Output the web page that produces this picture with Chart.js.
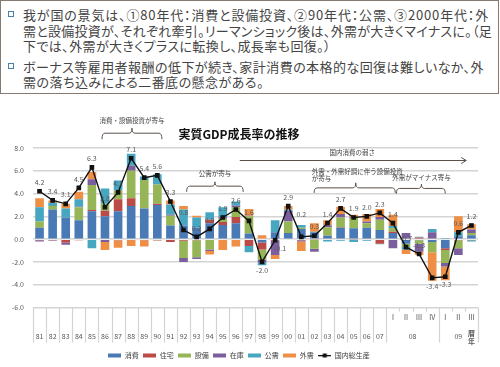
<!DOCTYPE html>
<html>
<head>
<meta charset="utf-8">
<script src="https://cdn.jsdelivr.net/npm/chart.js@4.4.1/dist/chart.umd.min.js"></script>
<style>
html, body { margin: 0; padding: 0; background: #fff; overflow: hidden; }
#wrap { position: relative; width: 500px; height: 367px; overflow: hidden; }
canvas { position: absolute; left: 0; top: 0; }
#box { position: absolute; left: 0; top: 0; width: 497px; height: 92px; border: 1.5px solid #86796f; background: #fff;
  font-family: "Noto Sans CJK JP"; font-size: 13px; color: #444; font-feature-settings: "palt"; }
.ln { position: absolute; left: 22px; height: 15px; line-height: 15px; white-space: nowrap; }
.sq { position: absolute; left: 7px; width: 4px; height: 4px; border: 1.5px solid #4d7ea8; }
#title { position: absolute; left: 0; top: 125px; width: 478px; text-align: center; font: bold 12px "Noto Sans CJK JP"; color: #111; }
</style>
</head>
<body>
<div id="wrap">
  <canvas id="grafico" width="500" height="370"></canvas>
  <div id="box">
    <div class="sq" style="top:10px"></div>
    <div class="ln" style="top:6px" data-w="466">我が国の景気は、①80年代：消費と設備投資、②90年代：公需、③2000年代：外</div>
    <div class="ln" style="top:22px" data-w="469">需と設備投資が、それぞれ牽引。リーマンショック後は、外需が大きくマイナスに。（足</div>
    <div class="ln" style="top:37px" data-w="308">下では、外需が大きくプラスに転換し、成長率も回復。）</div>
    <div class="sq" style="top:62px"></div>
    <div class="ln" style="top:58px" data-w="461">ボーナス等雇用者報酬の低下が続き、家計消費の本格的な回復は難しいなか、外</div>
    <div class="ln" style="top:73px" data-w="241">需の落ち込みによる二番底の懸念がある。</div>
  </div>
  <div id="title">実質GDP成長率の推移</div>
</div>
<script>
// カテゴリ（暦年 81〜07、08・09 は四半期）
const categories = ['81','82','83','84','85','86','87','88','89','90','91','92','93','94','95','96','97','98','99','00','01','02','03','04','05','06','07',
  '08Ⅰ','08Ⅱ','08Ⅲ','08Ⅳ','09Ⅰ','09Ⅱ','09Ⅲ'];
const yearLabels = ['81','82','83','84','85','86','87','88','89','90','91','92','93','94','95','96','97','98','99','00','01','02','03','04','05','06','07',
  '','','','','','',''];
const quarterLabels = ['','','','','','','','','','','','','','','','','','','','','','','','','','','',
  'Ⅰ','Ⅱ','Ⅲ','Ⅳ','Ⅰ','Ⅱ','Ⅲ'];
const groupLabels = ['08', '09'];
const groupRanges = [[27, 30], [31, 33]];
const calendarNote = '暦年';
const yTicks = [-6, -4, -2, 0, 2, 4, 6, 8];

// 寄与度（%ポイント）
const shohi =   [1.0, 2.6, 1.9, 1.65, 2.45, 2.0, 2.45, 2.9, 2.7, 3.0, 1.2, 1.2, 1.0, 1.4, 1.25, 1.4, 0.5, -0.3, 0.6, 0.55, 0.9, 0.6, 0.3, 1.0, 0.95, 1.0, 0.8, 0.55, -0.4, -0.1, -0.25, -0.8, 0.25, 0.35];
const jutaku =  [-0.1, -0.1, -0.3, -0.1, 0.1, 0.5, 1.05, 0.7, -0.1, 0.1, -0.25, -0.15, -0.1, 0.3, 0.25, 0.55, -0.6, -0.6, -0.1, 0.0, -0.1, -0.05, 0.0, 0.05, -0.05, 0.0, -0.4, 0.1, 0.0, 0.15, 0.05, -0.15, -0.1, -0.1];
const setsubi = [0.55, 0.3, 0.0, 1.15, 2.2, 0.6, 0.8, 2.4, 2.5, 1.7, 0.85, -1.5, -1.5, -0.9, 0.3, 0.85, 1.5, -0.9, 0.0, 1.0, 0.1, -0.8, 0.75, 0.85, 0.9, 0.4, 0.9, 0.3, -0.3, -0.3, -0.9, -1.15, -0.7, 0.2];
const zaiko =   [-0.1, -0.05, -0.2, 0.05, 0.5, -0.25, -0.1, 0.45, 0.0, -0.1, 0.1, -0.35, -0.15, -0.15, 0.15, 0.15, 0.05, -0.25, -1.3, 0.95, -0.1, -0.25, 0.15, 0.3, 0.1, 0.15, 0.25, -0.8, 0.55, -0.7, 0.55, -0.3, -0.6, 0.3];
const koju =    [1.25, 0.3, 0.8, 0.65, -0.8, 1.35, 0.85, 1.05, 0.3, 0.9, 0.9, 1.4, 0.9, 0.65, 0.85, 0.35, -0.55, -0.25, 1.05, 0.1, 0.25, 0.05, -0.2, -0.15, -0.2, -0.15, -0.05, 0.2, -0.2, 0.05, 0.3, 0.1, 0.35, -0.1];
const gaiju =   [0.8, 0.2, 0.4, 0.65, 0.65, -0.7, -0.65, -0.6, -0.55, -0.05, 0.35, 0.3, 0.15, -0.3, -0.95, -0.65, 0.6, 0.35, -0.35, 0.3, -0.85, 0.75, 0.45, 0.65, 0.2, 0.65, 0.7, 1.0, -0.4, -0.3, -2.5, -1.2, 1.4, 0.45];
// 国内総生産（実質成長率 %）
const gdp = [4.2, 3.4, 3.1, 4.5, 6.3, 2.8, 4.1, 7.1, 5.4, 5.6, 3.3, 0.8, 0.2, 0.9, 1.9, 2.6, 1.6, -2.0, -0.1, 2.9, 0.2, 0.3, 1.4, 2.7, 1.9, 2.0, 2.3, 1.4, -0.7, -1.3, -3.4, -3.3, 0.6, 1.2];

const seriesNames = ['消費', '住宅', '設備', '在庫', '公需', '外需'];
const lineName = '国内総生産';

// 注記（x はカテゴリ番号、y は目盛の値）
const notes = [
  { text: ['消費・設備投資が寄与'], tx: 7.06, ty: 10.44, align: 'center', x1: 4.77, x2: 9.35, xm: 7.06, yl: 9.3, ye: 8.77, yt: 9.74 },
  { text: ['公需が寄与'], tx: 13.4, ty: 5.76, align: 'center', x1: 11.24, x2: 15.56, xm: 13.4, yl: 4.65, ye: 4.15, yt: 5.03 },
  { text: ['外需・外需好調に伴う設備投資', 'が寄与'], tx: 20.8, ty: 5.95, align: 'left', x1: 20.98, x2: 27.18, xm: 24.16, yl: 4.5, ye: 4.06, yt: 4.94 },
  { text: ['外需がマイナス寄与'], tx: 29.18, ty: 5.38, align: 'center', x1: 27.27, x2: 31.0, xm: 29.18, yl: 4.45, ye: 4.0, yt: 4.82 }
];
const arrowNote = { text: '国内消費の弱さ', tx: 23.9, ty: 7.57, x1: 15.3, x2: 32.6, y: 6.93 };

const FONT = '"Noto Sans CJK JP"';
const colors = ['#4A7AB5', '#BC4B48', '#96B556', '#7B5F9C', '#47A6C0', '#EE8F45'];

// 本文の行幅を元図に合わせる
document.querySelectorAll('.ln').forEach(el => {
  const w = el.getBoundingClientRect().width;
  const n = el.textContent.length;
  el.style.letterSpacing = ((+el.dataset.w - w) / n) + 'px';
});

function swatch(ds) {
  const c = document.createElement('canvas');
  c.width = 13; c.height = 5;
  const g = c.getContext('2d');
  if (ds.type === 'line') {
    g.fillStyle = ds.borderColor;
    g.fillRect(0, 2, 13, 1.3);
    g.fillRect(4.5, 0.5, 4, 4);
  } else {
    g.fillStyle = ds.backgroundColor;
    g.fillRect(0, 0.5, 13, 4);
  }
  return c;
}

const catAxis = {
  id: 'catAxis',
  afterDraw(chart) {
    const xs = chart.scales.x, ctx = chart.ctx;
    const top = chart.chartArea.bottom;
    const step = xs.getPixelForValue(1) - xs.getPixelForValue(0);
    const starts = groupRanges.map(r => r[0]);
    ctx.save();
    ctx.strokeStyle = '#d3d3d3';
    ctx.lineWidth = 1.2;
    for (let i = 0; i <= categories.length; i++) {
      const px = Math.round(xs.getPixelForValue(i) - step / 2) + 0.5;
      const full = i <= 27 || starts.includes(i) || i === categories.length;
      ctx.beginPath();
      ctx.moveTo(px, top);
      ctx.lineTo(px, top + (full ? 35 : 4));
      ctx.stroke();
    }
    ctx.fillStyle = '#595959';
    ctx.textAlign = 'center';
    ctx.textBaseline = 'middle';
    ctx.font = '7px ' + FONT;
    yearLabels.forEach((t, i) => { if (t) ctx.fillText(t, xs.getPixelForValue(i), top + 29); });
    quarterLabels.forEach((t, i) => { if (t) ctx.fillText(t, xs.getPixelForValue(i), top + 10); });
    groupLabels.forEach((t, k) => {
      const r = groupRanges[k];
      ctx.fillText(t, (xs.getPixelForValue(r[0]) + xs.getPixelForValue(r[1])) / 2, top + 29);
    });
    ctx.font = 'bold 7px ' + FONT;
    const lx = xs.getPixelForValue(categories.length - 1);
    ctx.fillText(calendarNote[0], lx, top + 26);
    ctx.fillText(calendarNote[1], lx, top + 34);
    ctx.restore();
  }
};

const notesPlugin = {
  id: 'notes',
  afterDraw(chart) {
    const xs = chart.scales.x, ys = chart.scales.y, ctx = chart.ctx;
    const X = v => xs.getPixelForValue(v), Y = v => ys.getPixelForValue(v);
    ctx.save();
    ctx.strokeStyle = '#5a504a';
    ctx.lineWidth = 1;
    ctx.fillStyle = '#3f3f3f';
    ctx.font = '6.5px ' + FONT;
    ctx.textBaseline = 'middle';
    notes.forEach(n => {
      const x1 = X(n.x1), x2 = X(n.x2), xm = X(n.xm), yl = Y(n.yl), ye = Y(n.ye), yt = Y(n.yt);
      const r = 3;
      ctx.beginPath();
      ctx.moveTo(x1, ye);
      ctx.quadraticCurveTo(x1, yl, x1 + r, yl);
      ctx.lineTo(xm - r, yl);
      ctx.quadraticCurveTo(xm, yl, xm, yt);
      ctx.quadraticCurveTo(xm, yl, xm + r, yl);
      ctx.lineTo(x2 - r, yl);
      ctx.quadraticCurveTo(x2, yl, x2, ye);
      ctx.stroke();
      ctx.textAlign = n.align;
      n.text.forEach((t, k) => ctx.fillText(t, X(n.tx), Y(n.ty) + k * 7));
    });
    const a = arrowNote;
    const ax1 = X(a.x1), ax2 = X(a.x2), ay = Math.round(Y(a.y)) + 0.5;
    ctx.beginPath();
    ctx.moveTo(ax1, ay); ctx.lineTo(ax2, ay);
    ctx.moveTo(ax2 - 5, ay - 3); ctx.lineTo(ax2, ay); ctx.lineTo(ax2 - 5, ay + 3);
    ctx.stroke();
    ctx.textAlign = 'center';
    ctx.fillText(a.text, X(a.tx), Y(a.ty));
    ctx.restore();
  }
};

const below = [17, 18, 30, 31];
const extraUp = { 11: 9, 20: 14 };
const valueLabels = {
  id: 'valueLabels',
  afterDatasetsDraw(chart) {
    const meta = chart.getDatasetMeta(chart.data.datasets.length - 1);
    const ctx = chart.ctx;
    ctx.save();
    ctx.fillStyle = '#595959';
    ctx.font = '7px ' + FONT;
    ctx.textAlign = 'center';
    ctx.textBaseline = 'middle';
    meta.data.forEach((pt, i) => {
      const v = gdp[i].toFixed(1);
      if (below.includes(i)) ctx.fillText(v, pt.x + (i === 18 ? 5 : 0), pt.y + 8);
      else ctx.fillText(v, pt.x, pt.y - 9 - (extraUp[i] || 0));
    });
    ctx.restore();
  }
};

const series = [shohi, jutaku, setsubi, zaiko, koju, gaiju];
const datasets = series.map((d, i) => ({
  type: 'bar', label: seriesNames[i], data: d, backgroundColor: colors[i],
  stack: 'contrib', order: 1, barPercentage: 0.66, categoryPercentage: 1
}));
datasets.push({
  type: 'line', label: lineName, data: gdp, borderColor: '#111', backgroundColor: '#111',
  borderWidth: 1.4, pointStyle: 'rect', pointRadius: 2.3, stack: 'gdp', order: 0, tension: 0
});

const myChart = new Chart(document.getElementById('grafico').getContext('2d'), {
  type: 'bar',
  data: { labels: categories, datasets: datasets },
  options: {
    responsive: false,
    animation: false,
    layout: { padding: { left: 0, right: 22, top: 148, bottom: 1 } },
    scales: {
      x: {
        stacked: true,
        grid: { display: false },
        border: { display: false },
        ticks: { display: false },
        afterFit(s) { s.height = 40; }
      },
      y: {
        stacked: true,
        min: -6, max: 8,
        afterBuildTicks(s) { s.ticks = yTicks.map(v => ({ value: v })); },
        ticks: { callback: v => v.toFixed(1), font: { size: 7, family: FONT }, color: '#595959', padding: 9 },
        grid: { color: '#d4d4d4', lineWidth: 1.5, drawTicks: false },
        border: { display: false },
        afterFit(s) { s.width = 33; }
      }
    },
    plugins: {
      legend: {
        position: 'bottom',
        labels: {
          usePointStyle: true,
          pointStyleWidth: 13,
          padding: 4.5,
          color: '#404040',
          font: { size: 7, family: FONT },
          sort: (a, b) => a.datasetIndex - b.datasetIndex,
          generateLabels(chart) {
            const items = Chart.defaults.plugins.legend.labels.generateLabels(chart);
            items.forEach(it => { it.pointStyle = swatch(chart.data.datasets[it.datasetIndex]); });
            return items;
          }
        }
      },
      tooltip: { enabled: false }
    }
  },
  plugins: [catAxis, notesPlugin, valueLabels]
});
</script>
</body>
</html>
